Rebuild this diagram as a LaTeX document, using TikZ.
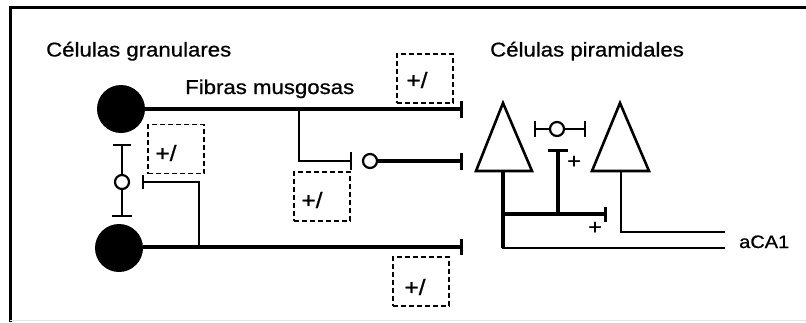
\documentclass[tikz,border=0pt]{standalone}
\usepackage{fontspec}
\newfontfamily\labfont[FakeStretch=1.11,FakeBold=0.8]{Liberation Sans}
\usetikzlibrary{arrows.meta}
\begin{document}
\begin{tikzpicture}[x=1pt,y=-1pt,
  soma/.style={circle,fill=black,minimum size=48pt,inner sep=0pt},
  axon/.style={line width=3.2pt},
  fibre/.style={line width=2.3pt},
  stopbar/.style={-{Bar[width=#1]}},
  gate/.style={circle,draw,line width=2.2pt,fill=white,minimum size=14pt,inner sep=0pt},
  modbox/.style={draw,dash pattern=on 5pt off 3pt,line width=1.9pt,
                 minimum width=56pt,minimum height=49pt,inner sep=0pt},
  lab/.style={font=\labfont\fontsize{20}{24}\selectfont,inner sep=0pt},
  modtext/.style={font=\labfont\fontsize{22}{26}\selectfont,inner sep=0pt},
  sign/.style={font=\labfont\fontsize{21}{25}\selectfont,inner sep=0pt},
  pyr/.style={line width=2.6pt,line join=miter}]
  \useasboundingbox (0,0) rectangle (806,322);
  % frame
  \draw[line width=3pt] (10,322) -- (10,7) -- (806,7);
  \draw[line width=0.8pt,black!10] (10,320.5) -- (806,320.5);

  % titles
  \node[lab,anchor=base west] (tgran) at (46,56.5) {Células granulares};
  \node[lab,anchor=base west] (tfib) at (185,94) {Fibras musgosas};
  \node[lab,anchor=base west] (tpyr) at (490,56.5) {Células piramidales};
  \node[font=\labfont\fontsize{18}{22}\selectfont,inner sep=0pt,anchor=base west] (tca) at (739,248) {aCA1};

  % granule cells and their mossy fibres
  \coordinate (e1) at (463,109);
  \coordinate (e2) at (463,161);
  \coordinate (e3) at (463,247);
  \coordinate (b1) at (299,109);
  \coordinate (s1) at (352,161);
  \coordinate (b2) at (199,247);
  \coordinate (s2) at (142,182);
  \draw[fibre,stopbar=18pt] (b1) |- (s1);
  \draw[fibre,stopbar=14pt] (b2) |- (s2);
  \node[soma] (g1) at (121,109) {};
  \node[soma] (g2) at (119,248) {};
  \draw[axon,stopbar=17pt] (g1.east) -- (e1);
  \draw[axon,stopbar=16pt] (g2.east |- e3) -- (e3);
  \node[gate] (c1) at (370,161) {};
  \draw[axon,stopbar=17pt] (c1) -- (e2);

  % interneuron between the granule cells
  \coordinate (t0) at (122,144);
  \coordinate (t0b) at (122,217);
  \node[gate] (c0) at (122,182) {};
  \draw[fibre,stopbar=18pt] (c0) -- (t0);
  \draw[fibre,stopbar=20pt] (c0) -- (t0b);

  % modulation boxes
  \node[modbox] (m1) at (176,149) {};
  \node[modtext] (m1t) at (166,153) {+/};
  \node[modbox] (m2) at (322,196.5) {};
  \node[modtext] (m2t) at (312,200) {+/};
  \node[modbox] (m3) at (425,78.5) {};
  \node[modtext] (m3t) at (417,80) {+/};
  \node[modbox] (m4) at (421,281.5) {};
  \node[modtext] (m4t) at (415,287) {+/};

  % pyramidal cells
  \coordinate (p1a) at (503,103);
  \coordinate (p1l) at (476,171);
  \coordinate (p1r) at (532,171);
  \coordinate (p1) at (503,171);
  \coordinate (p2a) at (620,103);
  \coordinate (p2l) at (592,171);
  \coordinate (p2r) at (649,171);
  \coordinate (p2) at (621,171);
  \draw[pyr] (p1l) -- (p1a) -- (p1r) -- cycle;
  \draw[pyr] (p2l) -- (p2a) -- (p2r) -- cycle;

  % pyramidal axons towards CA1
  \coordinate (out1) at (725,248);
  \coordinate (out2) at (725,232);
  \coordinate (k1) at (503,248);
  \draw[fibre] (p1) |- (out1);
  \draw[axon] (p1) -- (k1);
  \draw[fibre] (p2) |- (out2);

  % recurrent collaterals
  \coordinate (k2) at (503,214);
  \coordinate (s3) at (607,214);
  \coordinate (k3) at (558,214);
  \coordinate (s4) at (558,149);
  \draw[axon,stopbar=15pt] (k2) -- (s3);
  \draw[axon,stopbar=20pt] (k3) -- (s4);
  \node[sign] (plus1) at (574,162) {+};
  \node[sign] (plus2) at (595,228) {+};

  % inhibitory link between the pyramidal cells
  \coordinate (s5) at (534,129);
  \coordinate (s6) at (586,129);
  \node[gate] (c2) at (557,129) {};
  \draw[fibre,stopbar=16pt] (c2) -- (s5);
  \draw[fibre,stopbar=16pt] (c2) -- (s6);
\end{tikzpicture}
\end{document}
